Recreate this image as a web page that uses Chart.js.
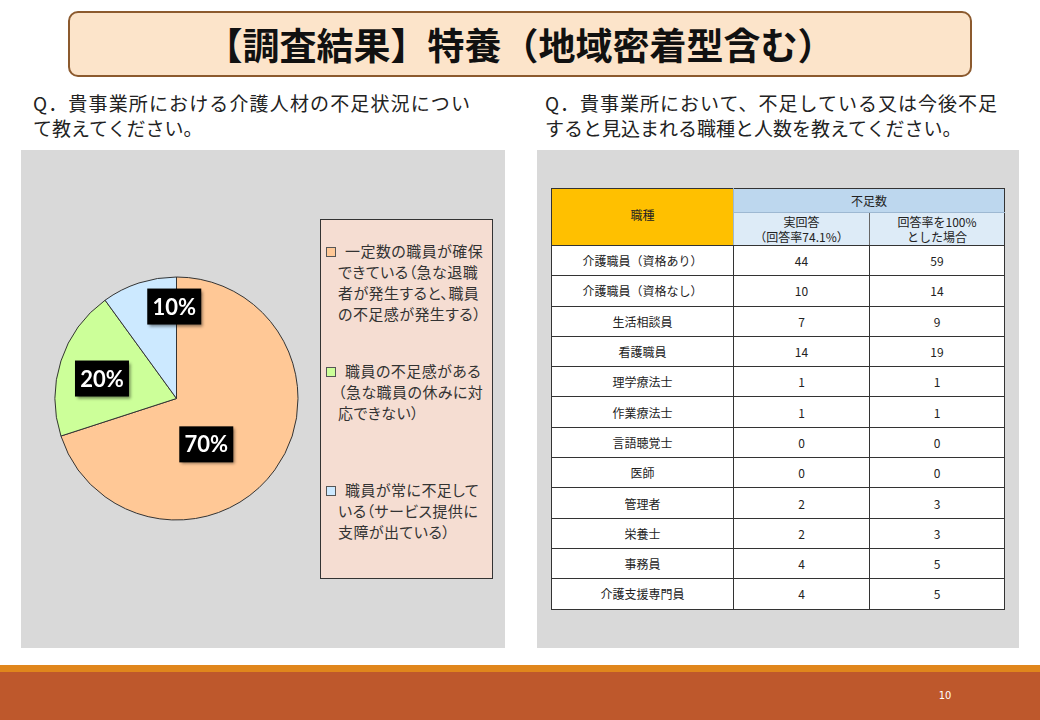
<!DOCTYPE html>
<html lang="ja">
<head>
<meta charset="utf-8">
<script src="https://cdn.jsdelivr.net/npm/chart.js@4.4.1/dist/chart.umd.min.js"></script>
<style>
  html, body { margin:0; padding:0; }
  body { width:1040px; height:720px; position:relative; overflow:hidden; background:#fff;
         font-family:"Noto Sans CJK JP","Noto Sans",sans-serif; }
  .abs { position:absolute; }
  #titlebox { left:68px; top:11px; width:900px; height:62px; background:#FCE4CA; border:2px solid #8C5A2E;
              border-radius:10px; text-align:center; line-height:62px; font-size:37px; font-weight:bold; color:#111; }
  .q { font-size:19px; line-height:25px; color:#222; white-space:nowrap; }
  .q .j { text-align:justify; text-align-last:justify; }
  #panelL { left:21px; top:150px; width:484px; height:498px; background:#D9D9D9; }
  #panelR { left:537px; top:150px; width:482px; height:498px; background:#D9D9D9; }
  #legend { left:320px; top:219px; width:171px; height:358px; background:#F5DDD2; border:1px solid #333; }
  .item { position:absolute; left:17px; height:119.5px; font-size:15px; letter-spacing:0.45px; line-height:21px; color:#333; white-space:nowrap;
          font-feature-settings:"palt"; }
  .mk { position:absolute; left:-12px; top:7px; width:8px; height:8px; border:1px solid #555; }
  #tbl { left:551px; top:188px; border-collapse:collapse; font-size:12px; color:#222; table-layout:fixed; }
  #tbl td { text-align:center; padding:0; }
  #tbl .d td { height:29.3px; border:1.5px solid #333; background:#fff; }
  #footer1 { left:0; top:665px; width:1040px; height:7px; background:#E0861C; }
  #footer2 { left:0; top:672px; width:1040px; height:48px; background:#BE582C; }
  #pnum { left:932px; top:689px; width:26px; text-align:center; color:#fff; font-size:11px; font-family:"Liberation Sans Narrow","DejaVu Sans Condensed",sans-serif; }
</style>
</head>
<body>
<div id="titlebox" class="abs"></div>
<div id="q1" class="abs q" style="left:33px; top:90px; width:437px;"></div>
<div id="q2" class="abs q" style="left:545px; top:90px; width:452px;"></div>
<div id="panelL" class="abs"></div>
<div id="panelR" class="abs"></div>
<div class="abs" style="left:46px; top:268px; width:261px; height:261px;"><canvas id="pie" width="261" height="261"></canvas></div>
<div id="legend" class="abs"></div>
<table id="tbl" class="abs"></table>
<div id="footer1" class="abs"></div>
<div id="footer2" class="abs"></div>
<div id="pnum" class="abs"></div>

<script>
// ---------- data ----------
const titleText = "【調査結果】特養（地域密着型含む）";
const question1 = ["Q．貴事業所における介護人材の不足状況につい", "て教えてください。"];
const question2 = ["Q．貴事業所において、不足している又は今後不足", "すると見込まれる職種と人数を教えてください。"];
const pieLabels = [
  ["一定数の職員が確保", "できている（急な退職", "者が発生すると、職員", "の不足感が発生する）"],
  ["職員の不足感がある", "（急な職員の休みに対", "応できない）"],
  ["職員が常に不足して", "いる（サービス提供に", "支障が出ている）"]
];
const pieValues = [70, 20, 10];
const tableHeadJob = "職種";
const tableHeadGroup = "不足数";
const tableHeadCols = [["実回答", "（回答率74.1%）"], ["回答率を100%", "とした場合"]];
const jobTypes = ["介護職員（資格あり）", "介護職員（資格なし）", "生活相談員", "看護職員", "理学療法士", "作業療法士", "言語聴覚士", "医師", "管理者", "栄養士", "事務員", "介護支援専門員"];
const actualCounts = [44, 10, 7, 14, 1, 1, 0, 0, 2, 2, 4, 4];
const fullRateCounts = [59, 14, 9, 19, 1, 1, 0, 0, 3, 3, 5, 5];
const pageNumber = "10";

// ---------- styles ----------
const sliceColors = ["#FFC896", "#CCFF99", "#CCE9FF"];
// label placement relative to each slice: [angle shift (deg), radius fraction]
const labelPlacement = [[21, 0.45], [-3, 0.635], [16.6, 0.757]];

// ---------- text ----------
document.getElementById("titlebox").textContent = titleText;
function qHtml(lines) {
  return lines.map((l, i) => '<div' + (i < lines.length - 1 ? ' class="j"' : '') + '>' + l + '</div>').join("");
}
document.getElementById("q1").innerHTML = qHtml(question1);
document.getElementById("q2").innerHTML = qHtml(question2);
document.getElementById("pnum").textContent = pageNumber;

// ---------- legend ----------
const legend = document.getElementById("legend");
pieLabels.forEach((lines, i) => {
  const it = document.createElement("div");
  it.className = "item";
  it.style.top = (20 + i * 119.5) + "px";
  it.innerHTML = '<span class="mk" style="background:' + sliceColors[i] + '"></span>' +
    lines.map((l, j) => j === 0 ? '<span style="padding-left:7px">' + l + '</span>' : l).join("<br>");
  legend.appendChild(it);
});

// ---------- table ----------
const tbl = document.getElementById("tbl");
let html = '<colgroup><col style="width:182px"><col style="width:136px"><col style="width:135px"></colgroup>';
html += '<tr style="height:24px"><td rowspan="2" style="background:#FFC000;border:1.5px solid #333;border-right:1px solid #9DB8D2;vertical-align:middle">' +
        '<div style="margin-top:-6px">' + tableHeadJob + '</div></td>' +
        '<td colspan="2" style="background:#BDD7EE;border-top:1.5px solid #333;border-right:1.5px solid #333;border-bottom:1px solid #9DB8D2">' + tableHeadGroup + '</td></tr>';
html += '<tr style="height:33px">' + tableHeadCols.map((c, k) => '<td style="background:#DDEBF7;line-height:15px;border-bottom:1.5px solid #333;' +
        (k === 0 ? 'border-right:1.5px solid #666;' : 'border-right:1.5px solid #333;') + '">' + c.join("<br>") + '</td>').join("") + '</tr>';
jobTypes.forEach((j, i) => {
  html += '<tr class="d"><td>' + j + '</td><td>' + actualCounts[i] + '</td><td>' + fullRateCounts[i] + '</td></tr>';
});
tbl.innerHTML = html;

// ---------- pie ----------
const boxLabels = {
  id: "boxLabels",
  afterDatasetsDraw(chart) {
    const ctx = chart.ctx;
    const meta = chart.getDatasetMeta(0);
    const total = pieValues.reduce((a, b) => a + b, 0);
    meta.data.forEach((arc, i) => {
      const p = arc.getProps(["x", "y", "startAngle", "endAngle", "outerRadius"], true);
      const a = (p.startAngle + p.endAngle) / 2 + labelPlacement[i][0] * Math.PI / 180;
      const r = p.outerRadius * labelPlacement[i][1];
      const cx = p.x + Math.cos(a) * r, cy = p.y + Math.sin(a) * r;
      const txt = Math.round(pieValues[i] / total * 100) + "%";
      const w = 54, h = 36;
      ctx.save();
      ctx.shadowColor = "rgba(0,0,0,0.45)";
      ctx.shadowOffsetX = 2; ctx.shadowOffsetY = 2; ctx.shadowBlur = 3;
      ctx.fillStyle = "#000";
      ctx.fillRect(cx - w / 2, cy - h / 2, w, h);
      ctx.restore();
      ctx.save();
      ctx.fillStyle = "#fff";
      ctx.font = "bold 22px Lato, 'Open Sans', sans-serif";
      ctx.textAlign = "center";
      ctx.textBaseline = "middle";
      ctx.fillText(txt, cx, cy + 1);
      ctx.restore();
    });
  }
};

new Chart(document.getElementById("pie"), {
  type: "pie",
  data: {
    labels: pieLabels,
    datasets: [{
      data: pieValues,
      backgroundColor: sliceColors,
      borderColor: "#333",
      borderWidth: 1
    }]
  },
  options: {
    responsive: false,
    animation: false,
    radius: 121.5,
    layout: { padding: 0 },
    plugins: { legend: { display: false }, tooltip: { enabled: false } }
  },
  plugins: [boxLabels]
});
</script>
</body>
</html>
